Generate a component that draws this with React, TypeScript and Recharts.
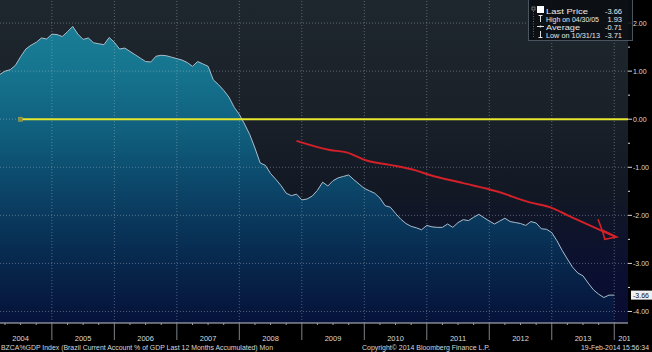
import { ComposedChart, Area, Line, XAxis, YAxis, ReferenceLine } from "recharts";

// Brazil current account % of GDP, month-end values from Feb 2004 to Dec 2013
const currentAccount = [
  0.93, 1.0, 1.03, 1.12, 1.3, 1.46, 1.54, 1.6, 1.69, 1.67, 1.77, 1.76,
  1.72, 1.82, 1.93, 1.77, 1.66, 1.69, 1.59, 1.57, 1.55, 1.7, 1.6, 1.46,
  1.48, 1.41, 1.34, 1.27, 1.2, 1.19, 1.31, 1.33, 1.32, 1.29, 1.26, 1.23,
  1.18, 1.1, 1.2, 1.15, 1.1, 0.82, 0.72, 0.6, 0.46, 0.25, 0.1, -0.1,
  -0.32, -0.6, -0.91, -0.96, -1.13, -1.25, -1.38, -1.54, -1.59, -1.56, -1.68, -1.66,
  -1.6, -1.48, -1.31, -1.39, -1.28, -1.22, -1.19, -1.16, -1.26, -1.35, -1.44, -1.49,
  -1.54, -1.64, -1.8, -1.83, -1.96, -2.08, -2.17, -2.23, -2.26, -2.3, -2.21, -2.24,
  -2.25, -2.25, -2.18, -2.25, -2.15, -2.09, -2.11, -2.04, -1.98, -2.05, -2.12, -2.18,
  -2.12, -2.06, -2.13, -2.15, -2.17, -2.21, -2.13, -2.16, -2.28, -2.29, -2.36, -2.53,
  -2.73, -2.91, -3.08, -3.2, -3.26, -3.41, -3.55, -3.64, -3.71, -3.66, -3.66,
];
const firstMonth = 2; // Feb 2004

// yellow reference line at zero
const zeroT = [2004.5, 2014.22];
const zeroV = [0, 0];

// red hand-drawn trend annotation
const trendT = [2008.915, 2009.448, 2009.715, 2010.035, 2010.408, 2010.835, 2011.048, 2011.581, 2012.115, 2012.648, 2012.968, 2013.288, 2013.715, 2014.008];
const trendV = [-0.45, -0.64, -0.69, -0.86, -0.95, -1.07, -1.16, -1.33, -1.5, -1.73, -1.83, -2.02, -2.27, -2.44];
const arrowT = [2013.741, 2013.824, 2013.848, 2014.04, 2013.816];
const arrowV = [-2.08, -2.38, -2.5, -2.45, -2.31];

const years = [2004, 2005, 2006, 2007, 2008, 2009, 2010, 2011, 2012, 2013, 2014];
const yTicks = [2, 1.5, 1, 0.5, 0, -0.5, -1, -1.5, -2, -2.5, -3, -3.5, -4];
const lastPrice = -3.66;

const legendLabels = ["Last Price", "High on 04/30/05", "Average", "Low on 10/31/13"];
const legendValues = ["-3.66", "1.93", "-0.71", "-3.71"];
const legendWidths = [42, 53, 34, 54];

const footerLeft = "BZCA%GDP Index (Brazil Current Account % of GDP Last 12 Months Accumulated)  Mon";
const footerMid = "Copyright\u00a9 2014 Bloomberg Finance L.P.";
const footerRight = "19-Feb-2014 15:56:34";

const series = currentAccount.map((v, i) => ({ t: 2004 + (i + firstMonth) / 12, v }));
const zeroData = zeroT.map((t, i) => ({ t, v: zeroV[i] }));
const trendData = trendT.map((t, i) => ({ t, v: trendV[i] }));
const arrowData = arrowT.map((t, i) => ({ t, v: arrowV[i] }));
const xTicks = years.slice(0, -1).flatMap((y) => [y + 0.25, y + 0.5, y + 0.75, y + 1]);

const FONT = "'Liberation Sans', Arial, sans-serif";
const GRID = "rgba(190,200,210,0.4)";

const XTick = (props: any) => {
  const { x, y, payload } = props;
  const v = payload.value as number;
  const frac = v - Math.floor(v);
  if (frac === 0) {
    return (
      <g>
        <line x1={x} x2={x} y1={y} y2={y + 17} stroke="#7d838a" />
        {v === years[years.length - 1] && (
          <text x={x + 4} y={y + 18} fontSize={7.5} fill="#dcdcdc" fontFamily={FONT} clipPath="url(#xclip)">
            {v}
          </text>
        )}
      </g>
    );
  }
  return (
    <g>
      <line x1={x} x2={x} y1={y} y2={y + 2} stroke="#9aa0a8" />
      {frac === 0.5 && (
        <text x={x} y={y + 18} fontSize={7.5} fill="#dcdcdc" textAnchor="middle" fontFamily={FONT}>
          {Math.floor(v)}
        </text>
      )}
    </g>
  );
};

const YTick = (props: any) => {
  const { x, y, payload } = props;
  const v = payload.value as number;
  if (v === lastPrice) {
    return (
      <g>
        <rect x={x + 3} y={y - 4.5} width={21} height={9} fill="#f0f0f0" />
        <text x={x + 5} y={y + 2.5} fontSize={7} fill="#111" fontFamily={FONT}>
          {v.toFixed(2)}
        </text>
      </g>
    );
  }
  const major = Number.isInteger(v);
  return (
    <g>
      <line x1={x} x2={x + (major ? 4 : 2)} y1={y} y2={y} stroke="#d8d8d8" />
      {major && (
        <text x={x + 5} y={y + 2.5} fontSize={7} fill="#dcdcdc" fontFamily={FONT}>
          {v.toFixed(2)}
        </text>
      )}
    </g>
  );
};

const StartSquare = (props: any) => {
  const { cx, cy, index } = props;
  if (index !== 0) return <g key={`d${index}`} />;
  return <rect key={`d${index}`} x={cx - 2} y={cy - 2} width={4} height={4} fill="#8c8a3c" stroke="#b8b44a" strokeWidth={0.5} />;
};

export default function App() {
  return (
    <div style={{ position: "relative", width: 652, height: 352, background: "#000", overflow: "hidden" }}>
      <style>{"body{margin:0;background:#000}"}</style>
      <div
        style={{
          position: "absolute",
          left: 0,
          top: 0,
          width: 628,
          height: 323,
          background: "linear-gradient(to bottom, #1e262e 0%, #1a2129 35%, #121824 60%, #0b1030 82%, #080c32 100%)",
        }}
      />
      <div style={{ position: "absolute", left: 0, top: 0 }}>
        <ComposedChart width={652} height={352} data={series} margin={{ top: 0, right: 0, left: 0, bottom: 0 }}>
          <defs>
            <linearGradient id="areaFill" gradientUnits="userSpaceOnUse" x1="0" y1="0" x2="0" y2="323">
              <stop offset="0%" stopColor="#1b8499" />
              <stop offset="20%" stopColor="#167690" />
              <stop offset="40%" stopColor="#10607e" />
              <stop offset="55%" stopColor="#0c4a6c" />
              <stop offset="70%" stopColor="#09355a" />
              <stop offset="85%" stopColor="#072348" />
              <stop offset="100%" stopColor="#06123a" />
            </linearGradient>
            <clipPath id="xclip">
              <rect x={0} y={0} width={630} height={352} />
            </clipPath>
          </defs>
          <XAxis
            dataKey="t"
            type="number"
            domain={[2004.17, 2014.22]}
            allowDataOverflow
            ticks={xTicks}
            interval={0}
            height={29}
            tickSize={0}
            tickMargin={0}
            tickLine={false}
            axisLine={{ stroke: "#c4c8cc" }}
            tick={<XTick />}
          />
          <YAxis
            orientation="right"
            type="number"
            domain={[-4.24, 2.48]}
            allowDataOverflow
            ticks={[...yTicks, lastPrice]}
            interval={0}
            width={24}
            tickSize={0}
            tickMargin={0}
            tickLine={false}
            axisLine={false}
            tick={<YTick />}
          />
          <Area
            type="linear"
            dataKey="v"
            baseValue="dataMin"
            stroke="#a9bdcc"
            strokeWidth={1}
            fill="url(#areaFill)"
            fillOpacity={1}
            dot={false}
            activeDot={false}
            isAnimationActive={false}
          />
          {yTicks.filter((v) => Number.isInteger(v)).map((v) => (
            <ReferenceLine key={`h${v}`} y={v} stroke={GRID} strokeDasharray="1 2" />
          ))}
          {years.slice(1).map((yr) => (
            <ReferenceLine key={`v${yr}`} x={yr} stroke={GRID} strokeDasharray="1 2" />
          ))}
          <Line
            data={zeroData}
            dataKey="v"
            type="linear"
            stroke="#e6e62c"
            strokeWidth={2}
            dot={<StartSquare />}
            activeDot={false}
            isAnimationActive={false}
          />
          <Line data={trendData} dataKey="v" type="monotone" stroke="#d42028" strokeWidth={2} dot={false} activeDot={false} isAnimationActive={false} />
          <Line data={arrowData} dataKey="v" type="linear" stroke="#d42028" strokeWidth={1.6} dot={false} activeDot={false} isAnimationActive={false} />
        </ComposedChart>
      </div>
      <svg width={652} height={352} style={{ position: "absolute", left: 0, top: 0, pointerEvents: "none" }} fontFamily={FONT}>
        <rect x={528.5} y={-1} width={104} height={41.5} fill="rgba(10,14,18,0.88)" stroke="#4a545e" />
        <rect x={532} y={7} width={3} height={3} fill="none" stroke="#aaa" strokeWidth={0.6} />
        <line x1={533.5} x2={533.5} y1={11} y2={37} stroke="#999" strokeDasharray="1 1.5" strokeWidth={0.6} />
        <rect x={537} y={6} width={7} height={7} fill="#fff" />
        <line x1={540.5} x2={540.5} y1={15.5} y2={22} stroke="#ddd" />
        <line x1={538.5} x2={542.5} y1={15.5} y2={15.5} stroke="#ddd" />
        <line x1={537} x2={544} y1={26.5} y2={26.5} stroke="#ddd" />
        <circle cx={540.5} cy={26.5} r={1} fill="#ddd" />
        <line x1={540.5} x2={540.5} y1={31} y2={37.5} stroke="#ddd" />
        <line x1={538.5} x2={542.5} y1={37.5} y2={37.5} stroke="#ddd" />
        {legendLabels.map((l, i) => (
          <g key={l}>
            <text x={546} y={13.5 + i * 8.2} fontSize={7.5} fill="#e8e8e8" textLength={legendWidths[i]} lengthAdjust="spacingAndGlyphs">
              {l}
            </text>
            <text x={622} y={13.5 + i * 8.2} fontSize={7.5} fill="#e8e8e8" textAnchor="end">
              {legendValues[i]}
            </text>
          </g>
        ))}
        <text x={1} y={350} fontSize={7.5} fill="#d8d8d8" textLength={272} lengthAdjust="spacingAndGlyphs">
          {footerLeft}
        </text>
        <text x={362} y={350} fontSize={7.5} fill="#d8d8d8" textLength={128} lengthAdjust="spacingAndGlyphs">
          {footerMid}
        </text>
        <text x={581} y={350} fontSize={6.6} fill="#d8d8d8" textLength={68} lengthAdjust="spacingAndGlyphs">
          {footerRight}
        </text>
      </svg>
    </div>
  );
}
